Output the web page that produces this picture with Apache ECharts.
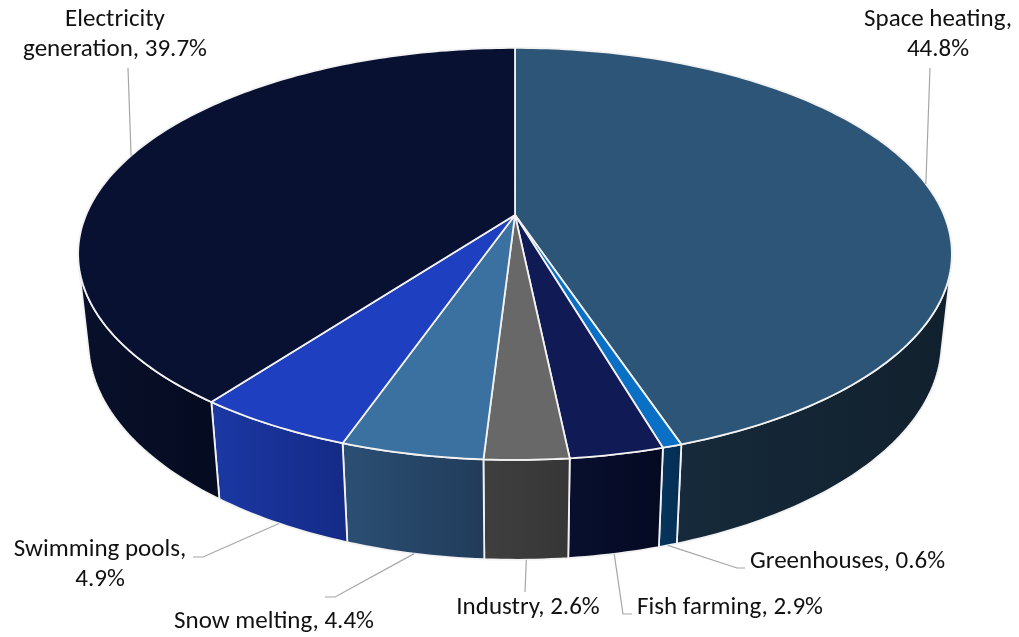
<!DOCTYPE html>
<html>
<head>
<meta charset="utf-8">
<script src="https://cdn.jsdelivr.net/npm/echarts@6/dist/echarts.min.js"></script>
<style>
  html, body { margin: 0; padding: 0; background: #ffffff; }
  #chart { width: 1019px; height: 637px; }
</style>
</head>
<body>
<div id="chart"></div>
<script>
// Geothermal direct use by application (share, %)
const categories = ['Space heating', 'Greenhouses', 'Fish farming', 'Industry', 'Snow melting', 'Swimming pools', 'Electricity generation'];
const shares = [44.8, 0.6, 2.9, 2.6, 4.4, 4.9, 39.7];

// Slice colours: top face and side wall (light -> dark across the wall)
const topColors = ['#2c5577', '#0a70c6', '#101a55', '#686868', '#3a71a0', '#1e3fbf', '#081131'];
const sideColors = [
  ['#162a3b', '#11202d'],
  ['#06365f', '#052c50'],
  ['#080f2e', '#050a22'],
  ['#3f3f3f', '#363636'],
  ['#2b4f74', '#213c5a'],
  ['#1b38a4', '#142a86'],
  ['#08102a', '#050b20']
];

// Label placement: text anchor, how the text wraps, and the leader start / elbow
const labelLayout = [
  { x: 938, y: 35,  align: 'center', wrap: 'comma', lx: 930, ly: 68,  ex: 930 },
  { x: 750, y: 562, align: 'left',   wrap: 'none',  lx: 745, ly: 568, ex: 737 },
  { x: 637, y: 608, align: 'left',   wrap: 'none',  lx: 632, ly: 614, ex: 623 },
  { x: 528, y: 608, align: 'center', wrap: 'none',  lx: 525, ly: 592, ex: 525 },
  { x: 274, y: 622, align: 'center', wrap: 'none',  lx: 325, ly: 597, ex: 335 },
  { x: 100, y: 565, align: 'center', wrap: 'comma', lx: 193, ly: 557, ex: 203 },
  { x: 115, y: 35,  align: 'center', wrap: 'name',  lx: 128, ly: 68,  ex: 128 }
];

// Perspective view of a flat cylinder (radius 1, thickness DEPTH)
const TILT = Math.asin(0.463);
const DIST = 4.69;
const DEPTH = 0.234;

function view(W, H) {
  return { cx: W * 0.5054, cy: H * 0.3375, f: W * 0.421 * DIST };
}

function proj(v, theta, h) {
  const X = Math.sin(theta), Z = Math.cos(theta), Y = -h * DEPTH;
  const up = Y * Math.cos(TILT) + Z * Math.sin(TILT);
  const depth = DIST + Z * Math.cos(TILT) - Y * Math.sin(TILT);
  return [v.cx + v.f * X / depth, v.cy - v.f * up / depth];
}

const total = shares.reduce((a, b) => a + b, 0);
const starts = [];
let acc = 0;
shares.forEach(s => { starts.push(acc / total * Math.PI * 2); acc += s; });
const ends = shares.map((s, i) => starts[i] + s / total * Math.PI * 2);

// Outer wall faces the viewer where cos(theta) < -1/(DIST*cos(TILT))
const VIS_A = Math.acos(-1 / (DIST * Math.cos(TILT)));
const VIS_B = Math.PI * 2 - VIS_A;

function arc(v, a, b, h) {
  const pts = [];
  const n = Math.max(2, Math.ceil((b - a) / (Math.PI / 180)));
  for (let k = 0; k <= n; k++) pts.push(proj(v, a + (b - a) * k / n, h));
  return pts;
}

function renderWall(params, api) {
  const i = params.dataIndex;
  const v = view(api.getWidth(), api.getHeight());
  const a = Math.max(starts[i], VIS_A), b = Math.min(ends[i], VIS_B);
  if (b <= a) return { type: 'group', children: [] };
  const pts = arc(v, a, b, 0).concat(arc(v, a, b, 1).reverse());
  return {
    type: 'polygon',
    shape: { points: pts },
    style: {
      fill: new echarts.graphic.LinearGradient(0, 0, 1, 0, [
        { offset: 0, color: sideColors[i][0] },
        { offset: 1, color: sideColors[i][1] }
      ]),
      stroke: '#f2f2f2',
      lineWidth: 1.8,
      lineJoin: 'round'
    }
  };
}

function renderTop(params, api) {
  const i = params.dataIndex;
  const v = view(api.getWidth(), api.getHeight());
  const pts = [[v.cx, v.cy]].concat(arc(v, starts[i], ends[i], 0));
  return {
    type: 'polygon',
    shape: { points: pts },
    style: { fill: topColors[i], stroke: '#f2f2f2', lineWidth: 1.8, lineJoin: 'round' }
  };
}

function labelText(i) {
  const name = categories[i], pct = shares[i].toFixed(1) + '%';
  const w = labelLayout[i].wrap;
  if (w === 'comma') return name + ',\n' + pct;
  if (w === 'name') {
    const p = name.split(' ');
    return p[0] + '\n' + p.slice(1).join(' ') + ', ' + pct;
  }
  return name + ', ' + pct;
}

function renderLabel(params, api) {
  const i = params.dataIndex;
  const v = view(api.getWidth(), api.getHeight());
  const mid = (starts[i] + ends[i]) / 2;
  const anchor = (mid > VIS_A && mid < VIS_B) ? proj(v, mid, 1) : proj(v, mid, 0);
  const L = labelLayout[i];
  const pts = [[L.lx, L.ly]];
  if (L.ex !== L.lx) pts.push([L.ex, L.ly]);
  pts.push(anchor);
  return {
    type: 'group',
    children: [
      {
        type: 'polyline',
        shape: { points: pts },
        style: { stroke: '#a6a6a6', lineWidth: 1.2, fill: null }
      },
      {
        type: 'text',
        style: {
          text: labelText(i),
          x: L.x, y: L.y,
          align: L.align,
          verticalAlign: 'middle',
          fontFamily: 'Carlito, Lato, "Open Sans", sans-serif',
          fontSize: 25,
          lineHeight: 30,
          fill: '#111111'
        }
      }
    ]
  };
}

const seriesData = categories.map((name, i) => ({ name, value: shares[i] }));

const chart = echarts.init(document.getElementById('chart'), null, { renderer: 'canvas' });
chart.setOption({
  backgroundColor: '#ffffff',
  animation: false,
  series: [
    { type: 'custom', coordinateSystem: 'none', z: 1, data: seriesData, renderItem: renderWall },
    { type: 'custom', coordinateSystem: 'none', z: 2, data: seriesData, renderItem: renderTop },
    { type: 'custom', coordinateSystem: 'none', z: 3, data: seriesData, renderItem: renderLabel }
  ]
});
</script>
</body>
</html>
